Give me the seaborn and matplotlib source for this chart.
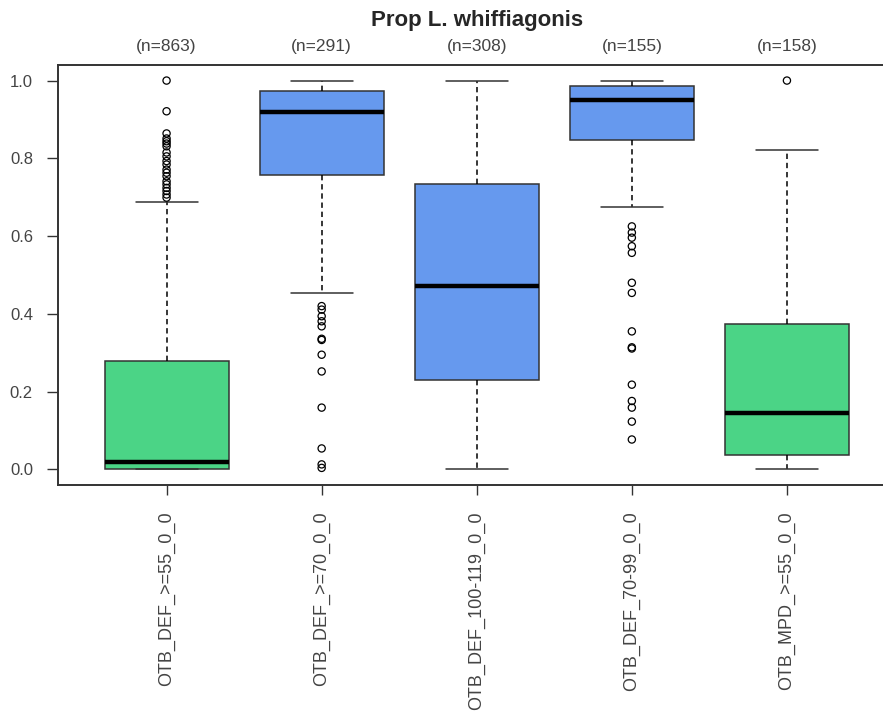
import numpy as np
import pandas as pd
import seaborn as sns
import matplotlib.pyplot as plt

# DATOS
# ----------------------------------------
grupos = ["OTB_DEF_>=55_0_0", "OTB_DEF_>=70_0_0", "OTB_DEF_100-119_0_0",
          "OTB_DEF_70-99_0_0", "OTB_MPD_>=55_0_0"]
n_obs = [863, 291, 308, 155, 158]

# resumen de cinco numeros: bigote inf, Q1, mediana, Q3, bigote sup
bigote_inf = [0.0, 0.455, 0.0, 0.674, 0.0]
q1 = [0.0, 0.758, 0.229, 0.848, 0.037]
mediana = [0.020, 0.920, 0.473, 0.949, 0.146]
q3 = [0.278, 0.972, 0.735, 0.987, 0.375]
bigote_sup = [0.689, 1.0, 1.0, 1.0, 0.821]

atipicos = {
    "OTB_DEF_>=55_0_0": [1.0, 0.921, 0.864, 0.851, 0.844, 0.838, 0.831, 0.815,
                         0.805, 0.793, 0.784, 0.771, 0.763, 0.754, 0.741,
                         0.733, 0.724, 0.716, 0.707, 0.699],
    "OTB_DEF_>=70_0_0": [0.420, 0.411, 0.394, 0.381, 0.368, 0.336, 0.333,
                         0.295, 0.252, 0.159, 0.054, 0.013, 0.004],
    "OTB_DEF_100-119_0_0": [],
    "OTB_DEF_70-99_0_0": [0.625, 0.609, 0.596, 0.574, 0.557, 0.480, 0.454,
                          0.355, 0.314, 0.311, 0.218, 0.176, 0.159, 0.123,
                          0.077],
    "OTB_MPD_>=55_0_0": [1.0],
}

colores = ["#4BD486", "#6699EE", "#6699EE", "#6699EE", "#4BD486"]

# tabla larga para seaborn
filas = []
for i, g in enumerate(grupos):
    for v in [bigote_inf[i], q1[i], mediana[i], q3[i], bigote_sup[i]]:
        filas.append({"grupo": g, "valor": v})
df_cajas = pd.DataFrame(filas)

filas = []
for g in grupos:
    for v in atipicos[g]:
        filas.append({"grupo": g, "valor": v})
df_atip = pd.DataFrame(filas)

# GRAFICA
# ----------------------------------------
sns.set_style("white")
plt.rcParams["font.family"] = ["Liberation Sans", "DejaVu Sans"]

fig = plt.figure(figsize=(8.83, 7.15), dpi=100)
ax = fig.add_axes([58 / 883, 230 / 715, 837.5 / 883, 420 / 715])

sns.boxplot(data=df_cajas, x="grupo", y="valor", hue="grupo", order=grupos,
            hue_order=grupos, palette=colores, legend=False, whis=(0, 100),
            showfliers=False, saturation=1, width=0.8, linecolor="#333333",
            linewidth=1.1,
            medianprops={"color": "black", "linewidth": 3.2},
            whiskerprops={"linestyle": (0, (3.5, 2.5)), "color": "black"},
            capprops={"color": "#333333"}, ax=ax)

sns.stripplot(data=df_atip, x="grupo", y="valor", order=grupos, jitter=False,
              color="black", facecolors="none", edgecolor="black",
              linewidth=0.9, size=5.2, ax=ax)

ax.set_xlim(-0.7, 4.7)
ax.set_ylim(-0.04, 1.04)
ax.set_yticks(np.arange(0, 1.01, 0.2))
ax.set_yticklabels([f"{t:.1f}" for t in np.arange(0, 1.01, 0.2)])
ax.set_xlabel("")
ax.set_ylabel("")
ax.tick_params(axis="y", length=8, width=1, pad=10, labelsize=12,
               labelcolor="#444444", color="#333333", left=True)
ax.tick_params(axis="x", length=7, width=1, pad=12, labelsize=13,
               labelcolor="#444444", color="#333333", bottom=True,
               labelrotation=90)
for s in ax.spines.values():
    s.set_color("#333333")
    s.set_linewidth(1.4)

for i, n in enumerate(n_obs):
    ax.text(i, 1.045, f"(n={n})", transform=ax.get_xaxis_transform(),
            ha="center", va="center", fontsize=12.5, color="#444444")

ax.text(0.5, 1.107, "Prop L. whiffiagonis", transform=ax.transAxes,
        ha="center", va="center", fontsize=16, fontweight="bold")

fig.savefig("out.png", dpi=100)
